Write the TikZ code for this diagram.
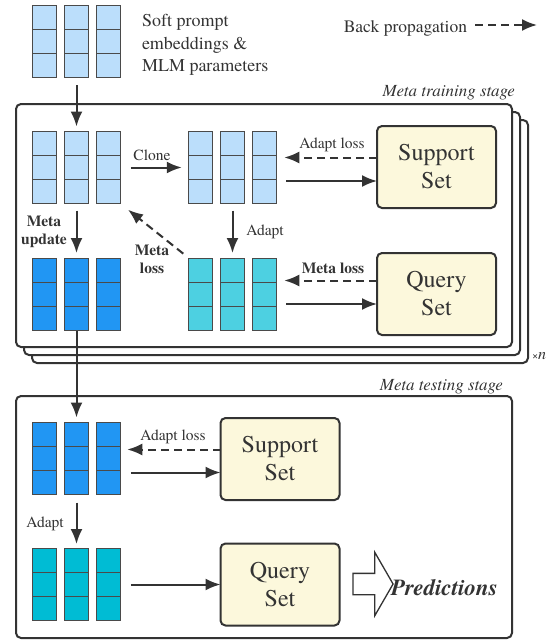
\documentclass[tikz,border=0pt]{standalone}
\usepackage{fontspec}
\setmainfont{texgyretermes}[Extension=.otf, UprightFont=*-regular,
    BoldFont=*-bold, ItalicFont=*-italic, BoldItalicFont=*-bolditalic]
\usetikzlibrary{arrows.meta,shapes.arrows}

\definecolor{paramlight}{HTML}{BBDEFB}
\definecolor{parammeta}{HTML}{2196F3}
\definecolor{paramadapt}{HTML}{4DD0E1}
\definecolor{paramtest}{HTML}{00BCD4}
\definecolor{setfill}{HTML}{FCF8DC}
\definecolor{linecol}{HTML}{333333}
\definecolor{cellline}{HTML}{4A4A4A}

\begin{document}
\begin{tikzpicture}[x=1pt, y=-1pt, >={Latex[length=15pt,width=12pt]},
     every node/.style = {inner sep=0pt, outer sep=0pt, text=linecol},
     cell/.style = {draw=cellline, line width=1pt, minimum width=23.5pt,
     minimum height=24pt, anchor=north west},
     blockarea/.style = {minimum width=87.5pt, minimum height=72pt},
     setbox/.style = {draw=linecol, fill=setfill, line width=2pt,
     rounded corners=5pt, minimum width=119pt, minimum height=82pt,
     align=center, font=\fontsize{24}{28}\selectfont},
     stagebox/.style = {draw=linecol, fill=white, line width=2pt,
     rounded corners=5pt},
     flow/.style = {->, draw=linecol, line width=2pt},
     backflow/.style = {flow, dash pattern=on 8pt off 5pt},
     lbl/.style = {font=\fontsize{15.5}{17}\selectfont},
     boldlbl/.style = {font=\fontsize{15.5}{18}\selectfont\bfseries, align=center},
     stagelbl/.style = {font=\fontsize{17}{20}\selectfont\itshape, anchor=base east}]
        \useasboundingbox (0,0) rectangle (556,640);

        % stages
        \draw[stagebox] (32,120) rectangle (528,363);
        \draw[stagebox] (24,112) rectangle (520,355);
        \draw[stagebox] (16,104) rectangle (512,347);
        \node[stagelbl] (trainlbl) at (515,96) {Meta training stage};
        \node[anchor=base west, font=\fontsize{16}{18}\selectfont]
            (copies) at (532,359) {{\fontsize{11}{12}\selectfont×}\textit{n}};
        \draw[stagebox] (16,396) rectangle (512,638);
        \node[stagelbl] (testlbl) at (503,390) {Meta testing stage};

        % parameter blocks
        \foreach \name/\x/\y/\col in {P/76.5/41/paramlight,
            A/76.5/167.5/paramlight, B/232.5/167.5/paramlight,
            C/76.5/294/parammeta, D/232.5/294/paramadapt,
            E/76.5/458.5/parammeta, F/76.5/584.5/paramtest} {
            \node[blockarea] (\name) at (\x,\y) {};
            \foreach \c in {0,1,2}
                \foreach \r in {0,1,2}
                    \node[cell, fill=\col] (\name\c\r)
                        at ([xshift=\c*32pt, yshift=-\r*24pt]\name.north west) {};
        }

        % support / query sets
        \node[setbox] (S1) at (436.5,167) {Support\\Set};
        \node[setbox] (Q1) at (436.5,294) {Query\\Set};
        \node[setbox] (S2) at (280,459) {Support\\Set};
        \node[setbox] (Q2) at (280,584.5) {Query\\Set};

        % legend
        \node[anchor=west, align=left, font=\fontsize{18}{22.5}\selectfont]
            (desc) at (142,45) {Soft prompt\\embeddings \&\\MLM parameters};
        \node[anchor=east, font=\fontsize{17.5}{20}\selectfont]
            (bp) at (467,28) {Back propagation};
        \coordinate (bpend) at (537,25);
        \draw[backflow, shorten <=8pt] (bp.east |- bpend) -- (bpend);

        % meta training
        \draw[flow, shorten <=8pt, shorten >=5pt] (P) -- (A);
        \draw[flow, shorten <=10.5pt, shorten >=7pt] (A) -- (B);
        \node[lbl] (clonelbl) at (152,155) {Clone};
        \draw[flow, shorten <=7pt, shorten >=5pt] (A) -- (C);
        \node[boldlbl] (updlbl) at (44,232) {Meta\\update};
        \draw[flow, shorten <=7pt, shorten >=5pt] (B) -- (D);
        \node[lbl] (adaptlbl1) at (265,232) {Adapt};
        \draw[backflow, shorten <=7pt, shorten >=10pt] (D.north west) -- (A.south east);
        \node[boldlbl] (losslbl1) at (152,259) {Meta\\loss};

        \coordinate (s1back) at ([yshift=9.5pt]S1.west);
        \coordinate (s1fwd) at ([yshift=-14pt]S1.west);
        \draw[backflow, shorten >=8pt] (s1back) -- (s1back -| B.east);
        \draw[flow, shorten <=10pt] (s1fwd -| B.east) -- (s1fwd);
        \node[lbl] (adaptlosslbl1) at (332,145) {Adapt loss};

        \coordinate (q1back) at ([yshift=13.5pt]Q1.west);
        \coordinate (q1fwd) at ([yshift=-10pt]Q1.west);
        \draw[backflow, shorten >=8pt] (q1back) -- (q1back -| D.east);
        \draw[flow, shorten <=10pt] (q1fwd -| D.east) -- (q1fwd);
        \node[boldlbl] (losslbl2) at (333,268) {Meta loss};

        % meta testing
        \draw[flow, shorten <=1pt, shorten >=5pt] (C) -- (E);
        \coordinate (s2back) at ([yshift=9.5pt]S2.west);
        \coordinate (s2fwd) at ([yshift=-13.5pt]S2.west);
        \draw[backflow, shorten >=7pt] (s2back) -- (s2back -| E.east);
        \draw[flow, shorten <=10.5pt] (s2fwd -| E.east) -- (s2fwd);
        \node[lbl] (adaptlosslbl2) at (173,437) {Adapt loss};
        \draw[flow, shorten <=8pt, shorten >=4.5pt] (E) -- (F);
        \node[lbl] (adaptlbl2) at (45,524) {Adapt};
        \draw[flow, shorten <=10.5pt] (F) -- (Q2);

        \node[single arrow, draw=linecol, fill=white, line width=1.3pt,
            inner xsep=0pt, inner ysep=10pt, minimum height=40pt,
            single arrow head extend=21pt, single arrow tip angle=120]
            (predarrow) at (370,584) {};
        \node[anchor=west, font=\fontsize{23}{26}\selectfont\bfseries\itshape]
            (pred) at (391,588) {Predictions};
\end{tikzpicture}
\end{document}
